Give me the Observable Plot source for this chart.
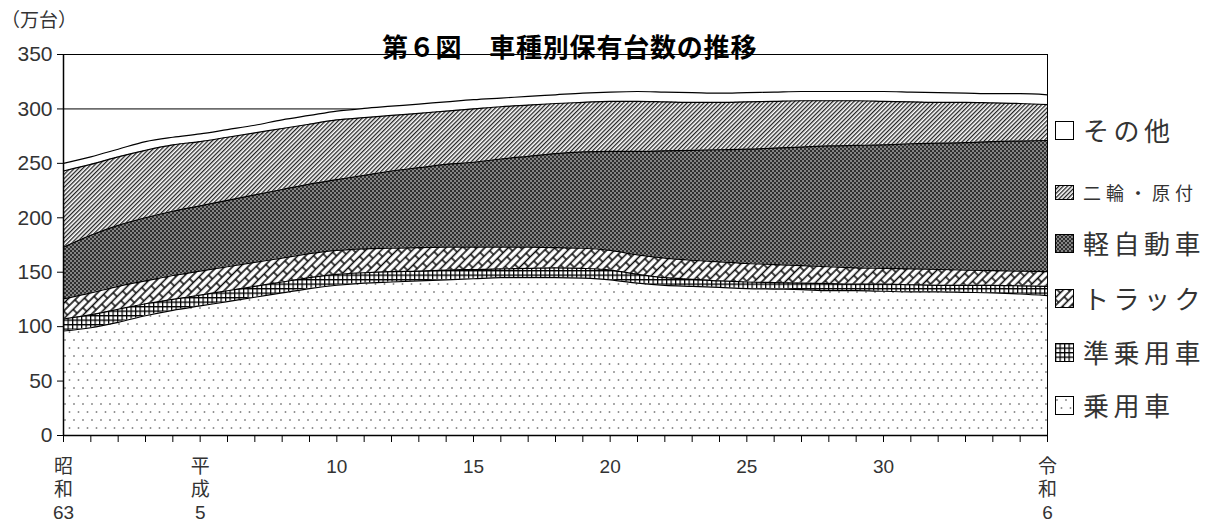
<!DOCTYPE html>
<html><head><meta charset="utf-8">
<script src="https://cdn.jsdelivr.net/npm/d3@7"></script>
<script src="https://cdn.jsdelivr.net/npm/@observablehq/plot@0.6"></script>
<style>
html,body{margin:0;padding:0;background:#fff;}
body{width:1215px;height:527px;position:relative;overflow:hidden;font-family:"Noto Sans CJK JP",sans-serif;color:#222;}
#chart{position:absolute;left:0;top:0;}
#title{position:absolute;left:382px;top:31px;font-size:26px;line-height:30px;font-weight:700;color:#000;letter-spacing:0.8px;white-space:nowrap;}
#unit{position:absolute;left:1px;top:6px;font-size:19px;line-height:26px;color:#333;white-space:nowrap;}
.lg{position:absolute;left:1055px;display:flex;align-items:center;white-space:nowrap;color:#333;}
.lg svg{display:block;margin-right:9px;}
</style>
</head><body>
<svg width="0" height="0" style="position:absolute;left:0;top:0">
<defs>
<pattern id="pSedan" patternUnits="userSpaceOnUse" width="9" height="16">
  <rect width="9" height="16" fill="#fff"/>
  <circle cx="2" cy="4" r="0.95" fill="#888"/>
  <circle cx="6.5" cy="12" r="0.95" fill="#888"/>
</pattern>
<pattern id="pSub" patternUnits="userSpaceOnUse" width="4.5" height="4.5">
  <rect width="4.5" height="4.5" fill="#fff"/>
  <path d="M0,0.6H4.5M0.6,0V4.5" stroke="#000" stroke-width="1.3"/>
</pattern>
<pattern id="pTruck" patternUnits="userSpaceOnUse" width="16" height="11" patternTransform="rotate(-45)">
  <rect width="16" height="11" fill="#fff"/>
  <path d="M0,1H16M0,6.5H16M1,1V6.5M9,6.5V12M9,-4.5V1" stroke="#000" stroke-width="1.4"/>
</pattern>
<pattern id="pKei" patternUnits="userSpaceOnUse" width="4" height="4">
  <rect width="4" height="4" fill="#858585"/>
  <circle cx="1" cy="1" r="1" fill="#111"/>
  <circle cx="3" cy="3" r="1" fill="#111"/>
</pattern>
<pattern id="pMoto" patternUnits="userSpaceOnUse" width="3" height="3" patternTransform="rotate(45)">
  <rect width="3" height="3" fill="#fff"/>
  <rect width="1.3" height="3" fill="#222"/>
</pattern>
</defs>
</svg>
<div id="chart"></div>
<div id="unit"></div>
<div id="title">第６図　車種別保有台数の推移</div>
<div id="legend"></div>
<script>
// x categories (years: 昭和63 = 1988 … 令和6 = 2024)
const years = [1988,1989,1990,1991,1992,1993,1994,1995,1996,1997,1998,1999,2000,2001,2002,2003,2004,2005,2006,2007,2008,2009,2010,2011,2012,2013,2014,2015,2016,2017,2018,2019,2020,2021,2022,2023,2024];
// series values (万台), bottom to top
const sedan = [96,99,104,110,115,119,123,127,131,135,138,140,141,142,143,144,145,145,145,144.5,143,140,138,137,136,135,134.5,134,133,133,132.5,132,132,131.5,131,130,128.5];
const subSedan = [11,12,12,11,10,10,10,10,10,10,10,9.5,9.5,9,9,8.5,8,8.5,9,9,9,8,7,6.5,6,6,6,6,6.5,6,6.5,6.5,6,6.5,7,7.5,8.5];
const truck = [18.5,20,21,21,22,22,22,22,22,22,22,22,21.5,21.5,21,20.5,20,19.5,18.5,18.5,18,18,18,17.5,17.5,17,16.5,16,15.5,15,14.5,14.5,14.5,14,13.5,13.5,13.5];
const kei = [47.5,53,56,58,59,60,61,62,63,64,65,67.5,71,73.5,76,78,81,83.5,86.5,88.5,91,95,98.5,101,103,105,107,109,111,112.5,113.5,115,116,117,118.5,119.5,120.5];
const moto = [70,65,63,62,61,59,58,57,56,55,55,53,51,50,49,49,48,47,46,45.5,46,46,45,44,43.5,43.5,43,42.5,41.5,41,40,38.5,37.5,37,35.5,34.5,33];
const other = [7,7,7,8,7,7,7,7,8,8,8,8.5,8.5,8.5,8.5,8.5,8,8,8,8.5,8.5,9,9,9,8.5,8.5,8.5,8.5,8.5,8.5,9,9,9,8.5,8.5,9,9];
const types = ["乗用車","準乗用車","トラック","軽自動車","二輪・原付","その他"];
const fills = ["url(#pSedan)","url(#pSub)","url(#pTruck)","url(#pKei)","url(#pMoto)","#fff"];
// axis ticks
const yTicks = [0,50,100,150,200,250,300,350];
const xLabelYears = [1988,1993,1998,2003,2008,2013,2018,2024];
const xLabelTexts = ["昭\n和\n63","平\n成\n5","10","15","20","25","30","令\n和\n6"];
const unitLabel = "（万台）";

const seriesValues = [sedan, subSedan, truck, kei, moto, other];
const data = types.flatMap((t, i) => years.map((yr, j) => ({year: yr, type: t, value: seriesValues[i][j]})));
const labelMap = new Map(xLabelYears.map((y, i) => [y, xLabelTexts[i]]));

const plot = Plot.plot({
  width: 1215, height: 527,
  marginLeft: 63, marginRight: 168, marginTop: 54, marginBottom: 92,
  x: {domain: [1988, 2024]},
  y: {domain: [0, 350]},
  color: {domain: types, range: fills},
  style: {fontFamily: '"Liberation Sans","Noto Sans CJK JP",sans-serif', fontSize: "20px", color: "#333", background: "transparent", overflow: "visible"},
  marks: [
    Plot.ruleY(yTicks.slice(1, -1), {stroke: "#000", strokeWidth: 1}),
    Plot.ruleX([2024], {y1: 0, y2: 350, stroke: "#000", strokeWidth: 1}),
    Plot.ruleY([350], {stroke: "#000", strokeWidth: 1}),
    Plot.areaY(data, {x: "year", y: "value", z: "type", fill: "type", curve: "monotone-x"}),
    Plot.lineY(data, Plot.stackY2({x: "year", y: "value", z: "type", stroke: "#000", strokeWidth: 1.2, curve: "monotone-x"})),
    Plot.axisY({ticks: yTicks, tickSize: 6, tickPadding: 5, label: null, fontSize: 21, stroke: "#000"}),
    Plot.axisX({ticks: years, tickSize: 7, tickPadding: 14, label: null, fontSize: 19, lineHeight: 1.22,
      tickFormat: d => labelMap.get(d) ?? "", stroke: "#000"}),
    Plot.ruleX([1988], {y1: 0, y2: 350, stroke: "#000", strokeWidth: 1.5}),
    Plot.ruleY([0], {stroke: "#000", strokeWidth: 1.5})
  ]
});
document.getElementById("chart").appendChild(plot);
document.getElementById("unit").textContent = unitLabel;

// legend (top to bottom: その他 … 乗用車)
const legendCenters = [130, 192, 243, 298, 352, 405];
const legend = document.getElementById("legend");
types.slice().reverse().forEach((t, k) => {
  const i = types.indexOf(t);
  const small = t === "二輪・原付";
  const row = document.createElement("div");
  row.className = "lg";
  const h = small ? 15 : 19;
  row.style.top = (legendCenters[k] - 17) + "px";
  row.style.height = "34px";
  row.innerHTML = `<svg width="19" height="${h}"><rect x="0.5" y="0.5" width="18" height="${h - 1}" fill="${fills[i]}" stroke="#000" stroke-width="1"/></svg>` +
    `<span style="font-size:${small ? 18 : 26}px;letter-spacing:${small ? 5 : 4.5}px;line-height:34px">${t}</span>`;
  legend.appendChild(row);
});
</script>
</body></html>
